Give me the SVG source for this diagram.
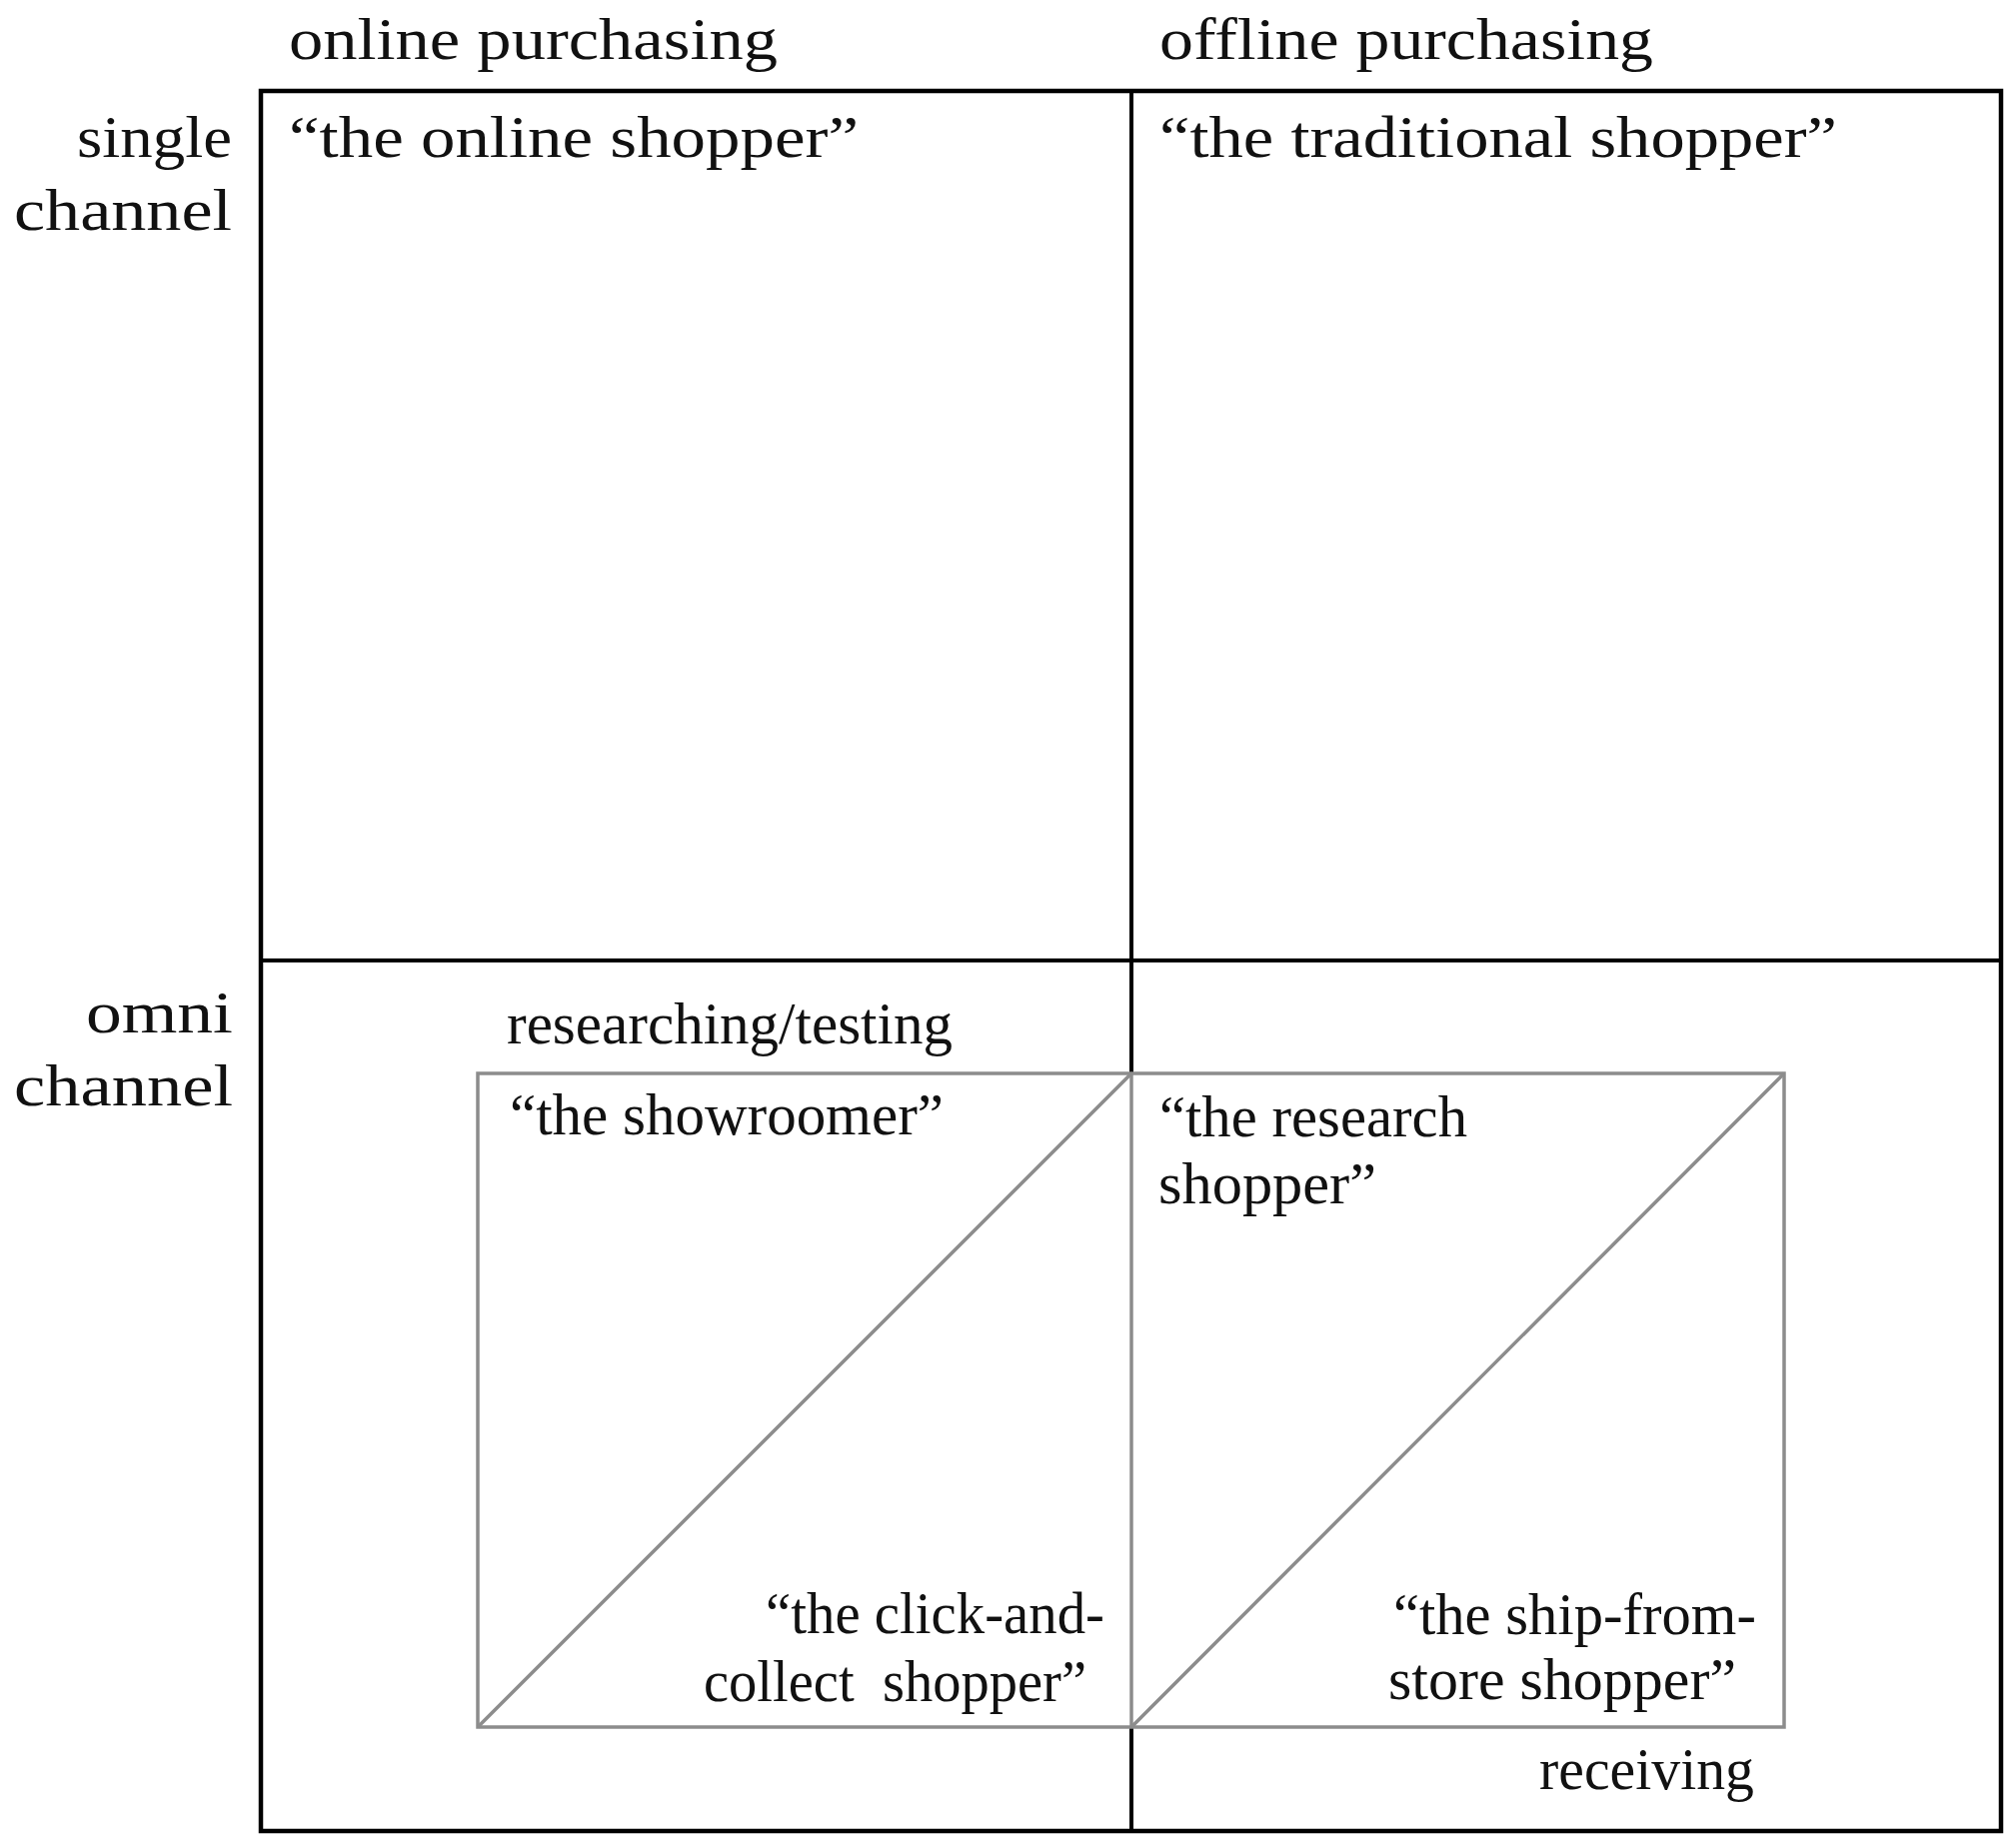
<svg xmlns="http://www.w3.org/2000/svg" width="2017" height="1848" viewBox="0 0 2017 1848">
<style>
  text { font-family: "Liberation Serif", "DejaVu Serif", serif; font-size: 59px; fill: #111; }
  .frame { fill: none; stroke: #000; stroke-width: 4.5; }
  .axis { stroke: #000; stroke-width: 4; fill: none; }
  .grey { stroke: #8c8c8c; stroke-width: 3.5; fill: none; }
</style>
<rect width="2017" height="1848" fill="#fff"/>
<g id="connectors">
  <rect class="frame" x="261" y="91" width="1741" height="1741"/>
  <line class="axis" x1="261" y1="961" x2="2002" y2="961"/>
  <line class="axis" x1="1132" y1="91" x2="1132" y2="1074"/>
  <line class="axis" x1="1132" y1="1728" x2="1132" y2="1832"/>
</g>
<g id="omni-box">
  <rect class="grey" x="478" y="1074" width="1307" height="654"/>
  <line class="grey" x1="1132" y1="1074" x2="1132" y2="1728"/>
  <line class="grey" x1="478" y1="1728" x2="1132" y2="1074"/>
  <line class="grey" x1="1132" y1="1728" x2="1785" y2="1074"/>
</g>
<g id="header-online"><text x="289" y="59" textLength="489" lengthAdjust="spacingAndGlyphs">online purchasing</text></g>
<g id="header-offline"><text x="1160" y="59" textLength="494" lengthAdjust="spacingAndGlyphs">offline purchasing</text></g>
<g id="row-single">
  <text x="77" y="157" textLength="155" lengthAdjust="spacingAndGlyphs">single</text>
  <text x="14" y="230" textLength="218" lengthAdjust="spacingAndGlyphs">channel</text>
</g>
<g id="row-omni">
  <text x="86" y="1033" textLength="147" lengthAdjust="spacingAndGlyphs">omni</text>
  <text x="14" y="1106" textLength="219" lengthAdjust="spacingAndGlyphs">channel</text>
</g>
<g id="online-shopper"><text x="289" y="157" textLength="570" lengthAdjust="spacingAndGlyphs">“the online shopper”</text></g>
<g id="traditional-shopper"><text x="1160" y="157" textLength="678" lengthAdjust="spacingAndGlyphs">“the traditional shopper”</text></g>
<g id="researching-label"><text x="507" y="1044" textLength="446" lengthAdjust="spacingAndGlyphs">researching/testing</text></g>
<g id="showroomer"><text x="510" y="1135" textLength="434" lengthAdjust="spacingAndGlyphs">“the showroomer”</text></g>
<g id="research-shopper">
  <text x="1160" y="1137" textLength="308" lengthAdjust="spacingAndGlyphs">“the research</text>
  <text x="1159" y="1204" textLength="218" lengthAdjust="spacingAndGlyphs">shopper”</text>
</g>
<g id="click-and-collect">
  <text x="766" y="1634" textLength="339" lengthAdjust="spacingAndGlyphs">“the click-and-</text>
  <text x="704" y="1702" textLength="383" lengthAdjust="spacingAndGlyphs" xml:space="preserve">collect  shopper”</text>
</g>
<g id="ship-from-store">
  <text x="1394" y="1635" textLength="363" lengthAdjust="spacingAndGlyphs">“the ship-from-</text>
  <text x="1389" y="1700" textLength="348" lengthAdjust="spacingAndGlyphs">store shopper”</text>
</g>
<g id="receiving-label"><text x="1540" y="1790" textLength="215" lengthAdjust="spacingAndGlyphs">receiving</text></g>
</svg>
